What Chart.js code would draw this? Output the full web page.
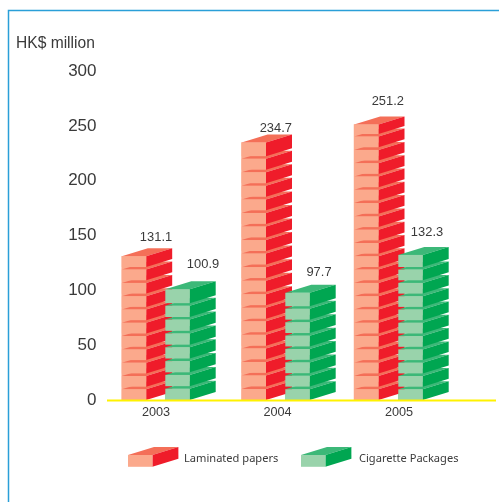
<!DOCTYPE html>
<html><head><meta charset="utf-8">
<script src="https://cdn.jsdelivr.net/npm/chart.js@4"></script>
<style>html,body{margin:0;padding:0;background:#fff}canvas{display:block}</style>
</head><body>
<div style="width:499px;height:502px"><canvas id="c"></canvas></div>
<script>
const categories = ["2003", "2004", "2005"];
const laminated = [131.1, 234.7, 251.2];
const cigarette = [100.9, 97.7, 132.3];
const yTicks = [0, 50, 100, 150, 200, 250, 300];

const PALETTE = [
  {front:"#FBA98C", side:"#EF1C2A", top:"#F46F58"},
  {front:"#99D3AB", side:"#00A651", top:"#3CB878"}
];
// Layout styling only: horizontal placement of each bar around its category, and label offsets
const BAR_SHIFT = [[-25.75,-27.45,-36.45],[17.75,16.25,7.75]];
const LABEL_SHIFT = [[[9,-19],[9,-14],[8.5,-23.5]],[[12.5,-25],[8.5,-20],[3.5,-22]]];
const BAR_W = 24.4, DX = 26, DY = 8, PITCH = 13.3, GAP = 2.6;
const TXT = "#3a3a3a";

function face(ctx, pts, color){
  ctx.fillStyle = color; ctx.beginPath();
  pts.forEach((p,i)=> i ? ctx.lineTo(p[0],p[1]) : ctx.moveTo(p[0],p[1]));
  ctx.closePath(); ctx.fill();
}
function brick(ctx, x, w, top, bot, c){
  face(ctx, [[x,top],[x+w,top],[x+w+DX,top-DY],[x+DX,top-DY]], c.top);
  face(ctx, [[x+w,bot],[x+w+DX,bot-DY],[x+w+DX,top-DY],[x+w,top]], c.side);
  face(ctx, [[x,top],[x+w,top],[x+w,bot],[x,bot]], c.front);
}

const look = {
  id:"look",
  afterDatasetsUpdate(chart){
    const xs = chart.scales.x;
    chart.data.datasets.forEach((d,di)=>{
      chart.getDatasetMeta(di).data.forEach((el,i)=>{
        el.x = xs.getPixelForValue(i) + BAR_SHIFT[di][i];
      });
    });
  },
  beforeDraw(chart){
    const ctx = chart.ctx;
    ctx.save();
    ctx.fillStyle = "#fff"; ctx.fillRect(0,0,chart.width,chart.height);
    ctx.strokeStyle = "#2A9FD8"; ctx.lineWidth = 1.5;
    ctx.beginPath(); ctx.moveTo(8.5,chart.height); ctx.lineTo(8.5,10.5); ctx.lineTo(chart.width,10.5); ctx.stroke();
    ctx.fillStyle = TXT; ctx.font = '15.6px "Liberation Sans"'; ctx.textBaseline="middle"; ctx.textAlign="left";
    ctx.fillText("HK$ million",16,43.5);
    ctx.restore();
  },
  afterDatasetsDraw(chart){
    const ctx = chart.ctx;
    const y0 = chart.scales.y.getPixelForValue(0);
    ctx.save();
    chart.data.datasets.forEach((d,di)=>{
      const c = PALETTE[di];
      chart.getDatasetMeta(di).data.forEach((el,i)=>{
        const h = y0 - el.y, x = el.x - BAR_W/2;
        let n = Math.floor(h/PITCH), p = PITCH;
        const rem = h - n*PITCH;
        let parts = n;
        if(rem <= 5) p = h/n; else parts = n+1;
        for(let k=0;k<parts;k++){
          const bot = y0 - k*p;
          const top = k===parts-1 ? el.y : bot - (p-GAP);
          brick(ctx,x,BAR_W,top,bot,c);
        }
      });
    });
    // baseline
    ctx.strokeStyle = "#FFF200"; ctx.lineWidth = 2;
    ctx.beginPath(); ctx.moveTo(107,y0+0.5); ctx.lineTo(496,y0+0.5); ctx.stroke();
    // value labels
    ctx.fillStyle = TXT; ctx.font = '12.9px "Liberation Sans"'; ctx.textAlign="center"; ctx.textBaseline="middle";
    chart.data.datasets.forEach((d,di)=>{
      chart.getDatasetMeta(di).data.forEach((el,i)=>{
        const s = LABEL_SHIFT[di][i];
        ctx.fillText(d.data[i].toFixed(1), el.x + DX/2 + s[0], el.y + s[1]);
      });
    });
    // legend
    const lx = [128,301], tx = [184,359];
    ctx.font = '11.1px "Noto Sans"'; ctx.textAlign="left";
    chart.data.datasets.forEach((d,di)=>{
      brick(ctx,lx[di],BAR_W,455,466.8,PALETTE[di]);
      ctx.fillStyle = TXT;
      ctx.fillText(d.label,tx[di],459);
    });
    ctx.restore();
  }
};

new Chart(document.getElementById("c"),{
  type:"bar",
  data:{labels:categories,datasets:[
    {label:"Laminated papers",data:laminated,backgroundColor:PALETTE[0].front,barThickness:BAR_W,grouped:false},
    {label:"Cigarette Packages",data:cigarette,backgroundColor:PALETTE[1].front,barThickness:BAR_W,grouped:false}
  ]},
  options:{
    responsive:true,maintainAspectRatio:false,animation:false,
    layout:{padding:{left:0,right:35.5,top:71,bottom:0}},
    plugins:{legend:{display:false},tooltip:{enabled:false},title:{display:false}},
    scales:{
      x:{grid:{display:false,drawTicks:false},border:{display:false},
         afterFit(s){s.height=102;},
         ticks:{color:TXT,padding:5,labelOffset:-3.75,font:{family:"Liberation Sans",size:12.7},maxRotation:0}},
      y:{min:0,max:300,grid:{display:false,drawTicks:false},border:{display:false},
         afterFit(s){s.width=99;},
         afterBuildTicks(s){s.ticks=yTicks.map(v=>({value:v}));},
         ticks:{color:TXT,padding:2.5,font:{family:"Liberation Sans",size:17}}}
    }
  },
  plugins:[look]
});
</script>
</body></html>
